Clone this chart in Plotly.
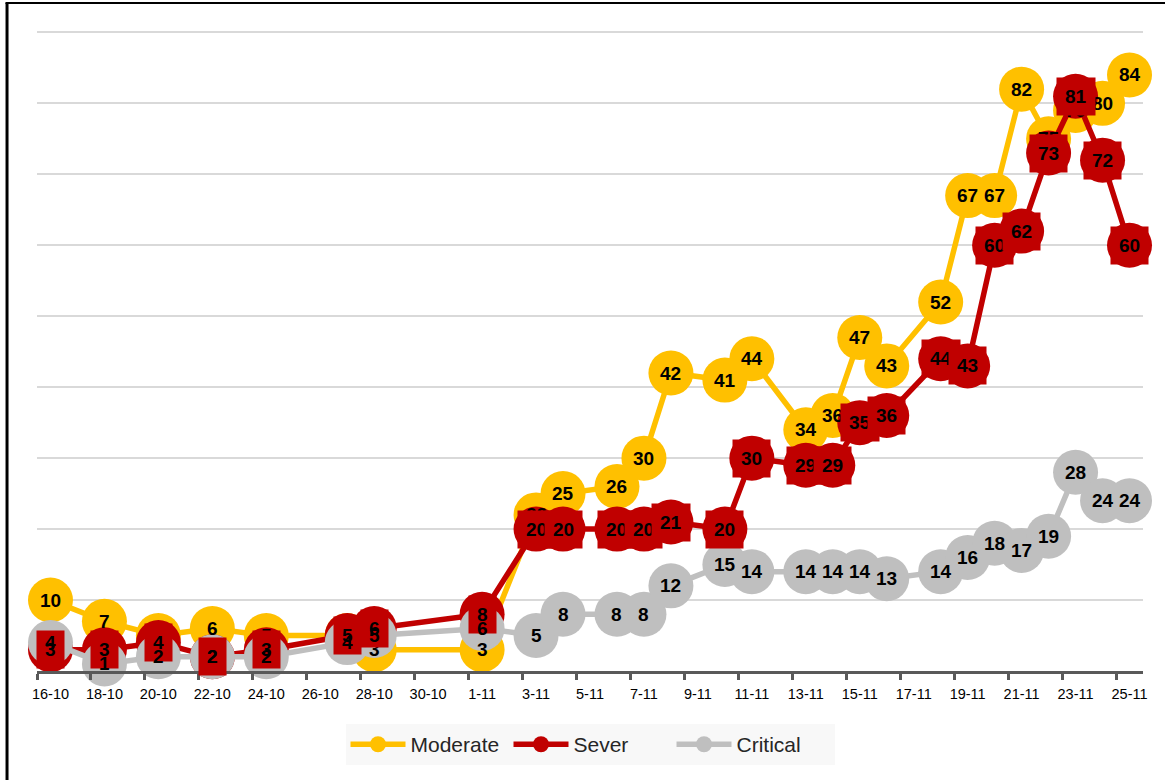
import pandas as pd
import plotly.graph_objects as go

# ---- data ----
dates = ["2020-10-16", "2020-10-18", "2020-10-20", "2020-10-22", "2020-10-24",
         "2020-10-27", "2020-10-28", "2020-11-01", "2020-11-03", "2020-11-04",
         "2020-11-06", "2020-11-07", "2020-11-08", "2020-11-10", "2020-11-11",
         "2020-11-13", "2020-11-14", "2020-11-15", "2020-11-16", "2020-11-18",
         "2020-11-19", "2020-11-20", "2020-11-21", "2020-11-22", "2020-11-23",
         "2020-11-24", "2020-11-25"]
moderate = [10, 7, 5, 6, 5, 5, 3, 3, 22, 25, 26, 30, 42, 41, 44, 34, 36, 47, 43,
            52, 67, 67, 82, 75, 79, 80, 84]
sever = [3, 3, 4, 2, 3, 5, 6, 8, 20, 20, 20, 20, 21, 20, 30, 29, 29, 35, 36,
         44, 43, 60, 62, 73, 81, 72, 60]
critical = [4, 1, 2, 2, 2, 4, 5, 6, 5, 8, 8, 8, 12, 15, 14, 14, 14, 14, 13,
            14, 16, 18, 17, 19, 28, 24, 24]
series_names = ["Moderate", "Sever", "Critical"]
series_colors = ["#FFC000", "#C00000", "#BFBFBF"]

x = pd.to_datetime(dates)
series_values = [moderate, sever, critical]

fig = go.Figure()
for name, vals, col in zip(series_names, series_values, series_colors):
    fig.add_trace(go.Scatter(
        x=x, y=vals, name=name, mode="lines+markers",
        line=dict(color=col, width=5.5),
        marker=dict(color=col, size=45),
        cliponaxis=False,
    ))

label_font = dict(family="Liberation Sans", size=19, color="#000000")
annotations = []
# moderate labels
for xi, v in zip(x, moderate):
    annotations.append(dict(x=xi, y=v, text=f"<b>{v}</b>", showarrow=False,
                            font=label_font, xanchor="center", yanchor="middle"))
# sever labels with filled boxes
for xi, v in zip(x, sever):
    annotations.append(dict(x=xi, y=v, text=f"<b>{v}</b>", showarrow=False,
                            font=label_font, xanchor="center", yanchor="middle",
                            bgcolor="#C00000", borderpad=8))
# critical labels
for xi, v in zip(x, critical):
    annotations.append(dict(x=xi, y=v, text=f"<b>{v}</b>", showarrow=False,
                            font=label_font, xanchor="center", yanchor="middle"))

DAY = 86400000
fig.update_layout(
    width=1165, height=780,
    margin=dict(l=37, r=22, t=31, b=109),
    paper_bgcolor="white", plot_bgcolor="white",
    showlegend=True,
    legend=dict(orientation="h", x=0.5, xanchor="center", y=-0.083, yanchor="top",
                bgcolor="#F8F8F8", font=dict(family="Liberation Sans", size=21, color="#262626"),
                itemwidth=55, entrywidth=93, entrywidthmode="pixels",
                traceorder="normal"),
    annotations=annotations,
    xaxis=dict(
        type="date",
        range=["2020-10-15 12:00", "2020-11-25 12:00"],
        tick0="2020-10-16", dtick=2 * DAY, tickformat="%-d-%m",
        ticks="", showgrid=False, zeroline=False,
        showline=True, linecolor="#595959", linewidth=3,
        tickfont=dict(family="Liberation Sans", size=14.5, color="#000000"),
        ticklabelstandoff=8,
        minor=dict(ticks="outside", tick0="2020-10-15 12:00", dtick=2 * DAY,
                   ticklen=6, tickwidth=3, tickcolor="#595959", showgrid=False),
    ),
    yaxis=dict(
        range=[0, 90.2], dtick=10, showticklabels=False, ticks="",
        showgrid=True, gridcolor="#D9D9D9", gridwidth=1.5,
        zeroline=False, showline=False,
    ),
    shapes=[
        dict(type="line", xref="paper", yref="paper", x0=-0.0271, x1=-0.0271,
             y0=-0.25, y1=1.0438, line=dict(color="#000000", width=3)),
        dict(type="line", xref="paper", yref="paper", x0=-0.0285, x1=1.1,
             y0=1.0438, y1=1.0438, line=dict(color="#000000", width=2)),
    ],
)

fig.write_html("out.html",
               config={"displayModeBar": False},
               post_script="document.body.style.margin='0';document.body.style.overflow='hidden';")
